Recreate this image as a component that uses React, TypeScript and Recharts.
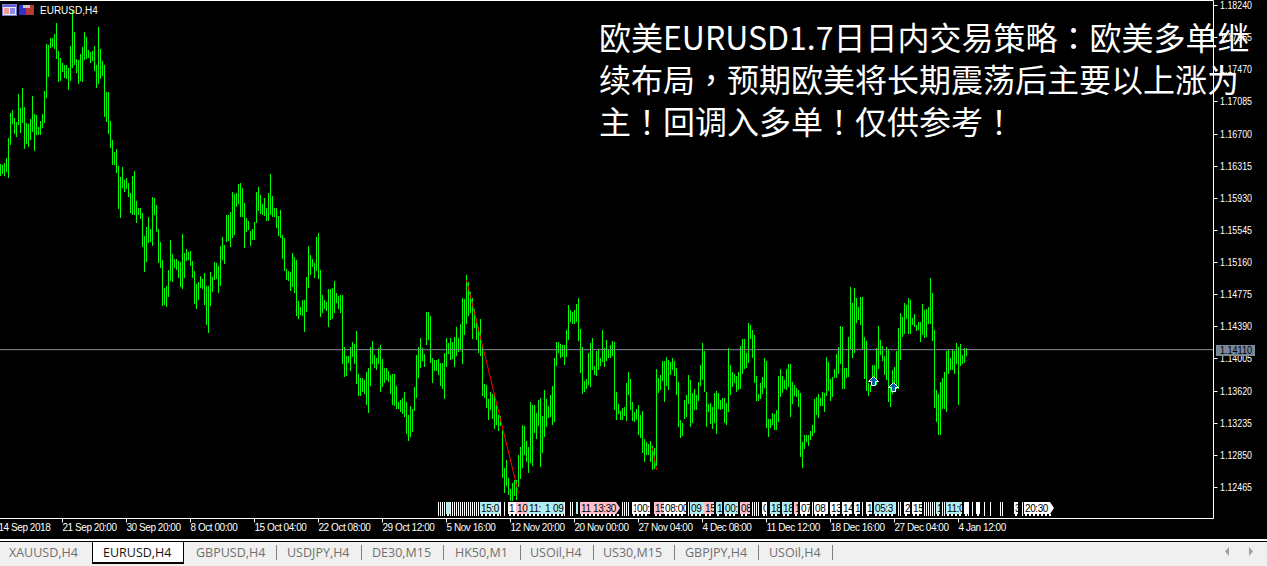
import { BarChart, Bar, XAxis, YAxis, ReferenceLine, ReferenceArea, ReferenceDot } from 'recharts'

const symbol = 'EURUSD,H4'
const titleLines = [
  '欧美EURUSD1.7日日内交易策略：欧美多单继',
  '续布局，预期欧美将长期震荡后主要以上涨为',
  '主！回调入多单！仅供参考！',
]

// 4h bar highs / lows, oldest first
const barHighs = [
  1.16332, 1.16320, 1.16352, 1.16404, 1.16644, 1.16944, 1.16980, 1.16884, 1.16836, 1.17172,
  1.17004, 1.17244, 1.17016, 1.16824, 1.16812, 1.16872, 1.17148, 1.16932, 1.16920, 1.16776,
  1.16848, 1.16932, 1.17208, 1.17772, 1.17760, 1.17844, 1.17844, 1.17892, 1.18024, 1.17688,
  1.17604, 1.17544, 1.17520, 1.17520, 1.17484, 1.17748, 1.18180, 1.17916, 1.17592, 1.17580,
  1.17652, 1.17736, 1.17916, 1.17856, 1.17700, 1.17676, 1.17688, 1.17748, 1.17520, 1.17976,
  1.17712, 1.17568, 1.17520, 1.17196, 1.17196, 1.16848, 1.16620, 1.16476, 1.16512, 1.16308,
  1.16176, 1.16296, 1.16143, 1.16167, 1.16107, 1.15987, 1.16191, 1.16251, 1.15891, 1.15807,
  1.15807, 1.15747, 1.15471, 1.15579, 1.15699, 1.15555, 1.15939, 1.15927, 1.15843, 1.15555,
  1.15399, 1.15183, 1.14847, 1.14871, 1.15063, 1.15423, 1.15255, 1.15195, 1.15195, 1.15171,
  1.15159, 1.15495, 1.15267, 1.15315, 1.15279, 1.15291, 1.15171, 1.15051, 1.14895, 1.14919,
  1.14991, 1.14955, 1.15027, 1.14871, 1.14871, 1.15039, 1.14979, 1.15159, 1.15147, 1.15111,
  1.15351, 1.15459, 1.15363, 1.15723, 1.15723, 1.15759, 1.15999, 1.15975, 1.15987, 1.16095,
  1.16107, 1.16047, 1.15867, 1.15687, 1.15651, 1.15531, 1.15555, 1.15639, 1.15999, 1.16059,
  1.15963, 1.15855, 1.15927, 1.15807, 1.15987, 1.16215, 1.15951, 1.15807, 1.15807, 1.15711,
  1.15783, 1.15483, 1.15447, 1.15075, 1.15051, 1.15039, 1.15267, 1.15219, 1.15183, 1.14691,
  1.14619, 1.14703, 1.14703, 1.14979, 1.15351, 1.15243, 1.15195, 1.15147, 1.15459, 1.15507,
  1.15064, 1.14764, 1.14704, 1.14680, 1.14836, 1.14836, 1.14848, 1.14932, 1.14788, 1.14752,
  1.14764, 1.14764, 1.14140, 1.14032, 1.14032, 1.14140, 1.14200, 1.14176, 1.14332, 1.13816,
  1.13768, 1.13768, 1.13744, 1.13840, 1.13888, 1.14140, 1.14212, 1.14044, 1.14008, 1.14128,
  1.14164, 1.13996, 1.13888, 1.13888, 1.13852, 1.13804, 1.13816, 1.13816, 1.13672, 1.13480,
  1.13504, 1.13528, 1.13600, 1.13480, 1.13324, 1.13432, 1.13396, 1.13660, 1.14044, 1.14140,
  1.14248, 1.14128, 1.14056, 1.14560, 1.14560, 1.14512, 1.14008, 1.13984, 1.13984, 1.13996,
  1.13948, 1.13948, 1.14068, 1.14248, 1.14188, 1.14248, 1.14200, 1.14260, 1.14380, 1.14248,
  1.14416, 1.14728, 1.14716, 1.15004, 1.14920, 1.14800, 1.14728, 1.14596, 1.14476, 1.14380,
  1.14476, 1.14152, 1.13696, 1.13684, 1.13516, 1.13600, 1.13576, 1.13588, 1.13444, 1.13324,
  1.13312, 1.13144, 1.12688, 1.12784, 1.12568, 1.12436, 1.12508, 1.12544, 1.12544, 1.12844,
  1.12940, 1.13204, 1.13192, 1.13012, 1.12940, 1.13480, 1.13444, 1.13444, 1.13348, 1.13504,
  1.13528, 1.13312, 1.13624, 1.13516, 1.13432, 1.13564, 1.13672, 1.14008, 1.14200, 1.14200,
  1.14176, 1.14164, 1.14164, 1.14344, 1.14644, 1.14584, 1.14560, 1.14584, 1.14656, 1.14728,
  1.14356, 1.14140, 1.13732, 1.13756, 1.14068, 1.14188, 1.14248, 1.13912, 1.14092, 1.14116,
  1.14008, 1.14344, 1.14128, 1.14224, 1.14104, 1.14164, 1.14212, 1.14200, 1.13600, 1.13456,
  1.13372, 1.13408, 1.13420, 1.13708, 1.13840, 1.13756, 1.13480, 1.13360, 1.13396, 1.13444,
  1.13324, 1.13372, 1.13036, 1.13000, 1.12976, 1.13012, 1.12952, 1.12928, 1.13876, 1.13768,
  1.13804, 1.13972, 1.13972, 1.14020, 1.13984, 1.13960, 1.14008, 1.13972, 1.13888, 1.13720,
  1.13264, 1.13228, 1.13504, 1.13564, 1.13804, 1.13744, 1.13588, 1.13636, 1.13564, 1.13720,
  1.13924, 1.14188, 1.14092, 1.13600, 1.13456, 1.13468, 1.13420, 1.13588, 1.13612, 1.13588,
  1.13504, 1.13528, 1.13528, 1.13468, 1.14128, 1.13924, 1.13840, 1.13816, 1.13792, 1.13840,
  1.14152, 1.14236, 1.14236, 1.14068, 1.14428, 1.14404, 1.14344, 1.14284, 1.13792, 1.13576,
  1.13708, 1.13780, 1.14008, 1.13972, 1.13276, 1.13276, 1.13348, 1.13336, 1.13384, 1.13792,
  1.13876, 1.13792, 1.13744, 1.13876, 1.13936, 1.13936, 1.13720, 1.13684, 1.13648, 1.13624,
  1.13588, 1.13000, 1.13084, 1.13084, 1.13084, 1.13132, 1.13204, 1.13516, 1.13540, 1.13576,
  1.13528, 1.13600, 1.13588, 1.14020, 1.13960, 1.13756, 1.13780, 1.13876, 1.14056, 1.14140,
  1.14392, 1.14380, 1.13888, 1.13888, 1.14260, 1.14860, 1.14668, 1.14848, 1.14728, 1.14620,
  1.14740, 1.14740, 1.14260, 1.14212, 1.13708, 1.13684, 1.13924, 1.13924, 1.14128, 1.14392,
  1.14224, 1.14152, 1.14032, 1.14140, 1.14116, 1.13684, 1.13864, 1.13900, 1.14092, 1.14368,
  1.14548, 1.14500, 1.14668, 1.14644, 1.14728, 1.14704, 1.14488, 1.14536, 1.14404, 1.14440,
  1.14440, 1.14656, 1.14584, 1.14596, 1.14620, 1.14968, 1.14788, 1.14344, 1.13624, 1.13576,
  1.13720, 1.13768, 1.13840, 1.14092, 1.14104, 1.14008, 1.14116, 1.14092, 1.14188, 1.14140,
  1.14176, 1.14044, 1.14128, 1.14128,
]
const barLows = [
  1.16188, 1.16212, 1.16200, 1.16236, 1.16164, 1.16560, 1.16812, 1.16692, 1.16656, 1.16800,
  1.16704, 1.16824, 1.16512, 1.16572, 1.16536, 1.16620, 1.16716, 1.16488, 1.16680, 1.16680,
  1.16680, 1.16764, 1.16824, 1.17124, 1.17376, 1.17724, 1.17736, 1.17712, 1.17592, 1.17316,
  1.17328, 1.17436, 1.17364, 1.17352, 1.17220, 1.17328, 1.17484, 1.17520, 1.17424, 1.17292,
  1.17328, 1.17316, 1.17580, 1.17592, 1.17604, 1.17544, 1.17568, 1.17448, 1.17244, 1.17292,
  1.17352, 1.17388, 1.16896, 1.16836, 1.16692, 1.16524, 1.16320, 1.16320, 1.16224, 1.15795,
  1.15687, 1.16047, 1.15999, 1.16035, 1.15939, 1.15747, 1.15723, 1.15723, 1.15627, 1.15723,
  1.15675, 1.15339, 1.15039, 1.15159, 1.15387, 1.15399, 1.15351, 1.15723, 1.15519, 1.15147,
  1.15087, 1.14631, 1.14643, 1.14619, 1.14739, 1.14931, 1.14919, 1.15087, 1.15063, 1.14967,
  1.14859, 1.14835, 1.14967, 1.15171, 1.15183, 1.15111, 1.14967, 1.14655, 1.14595, 1.14703,
  1.14847, 1.14835, 1.14643, 1.14403, 1.14307, 1.14631, 1.14799, 1.14943, 1.14955, 1.14787,
  1.14871, 1.15183, 1.15135, 1.15399, 1.15411, 1.15339, 1.15447, 1.15483, 1.15819, 1.15855,
  1.15699, 1.15699, 1.15327, 1.15519, 1.15543, 1.15351, 1.15423, 1.15423, 1.15627, 1.15771,
  1.15735, 1.15723, 1.15711, 1.15651, 1.15651, 1.15723, 1.15699, 1.15699, 1.15567, 1.15471,
  1.15447, 1.15195, 1.15051, 1.14943, 1.14931, 1.14811, 1.14859, 1.14787, 1.14511, 1.14475,
  1.14523, 1.14511, 1.14319, 1.14559, 1.14847, 1.15003, 1.15099, 1.14967, 1.15051, 1.14955,
  1.14500, 1.14548, 1.14596, 1.14572, 1.14380, 1.14464, 1.14476, 1.14548, 1.14668, 1.14596,
  1.14548, 1.13936, 1.13780, 1.13792, 1.13948, 1.13852, 1.14020, 1.13936, 1.13696, 1.13552,
  1.13552, 1.13600, 1.13576, 1.13444, 1.13348, 1.13672, 1.13936, 1.13888, 1.13864, 1.13936,
  1.13600, 1.13660, 1.13708, 1.13744, 1.13720, 1.13576, 1.13444, 1.13432, 1.13396, 1.13396,
  1.13360, 1.13336, 1.13300, 1.13096, 1.13012, 1.13060, 1.13120, 1.13372, 1.13528, 1.13768,
  1.13888, 1.13972, 1.13900, 1.14164, 1.14224, 1.13948, 1.13708, 1.13852, 1.13852, 1.13804,
  1.13672, 1.13636, 1.13516, 1.13900, 1.14056, 1.13984, 1.13996, 1.13900, 1.14032, 1.14080,
  1.14104, 1.13936, 1.14284, 1.14416, 1.14512, 1.14548, 1.14236, 1.14368, 1.14224, 1.14068,
  1.14032, 1.13552, 1.13528, 1.13408, 1.13264, 1.13384, 1.13276, 1.13156, 1.13204, 1.13132,
  1.13192, 1.12568, 1.12388, 1.12472, 1.12364, 1.12292, 1.12292, 1.12352, 1.12304, 1.12460,
  1.12556, 1.12688, 1.12844, 1.12760, 1.12628, 1.12748, 1.12712, 1.13108, 1.13036, 1.13192,
  1.12700, 1.12868, 1.13060, 1.13180, 1.13288, 1.13300, 1.13204, 1.13240, 1.13912, 1.14068,
  1.14008, 1.14020, 1.13924, 1.14020, 1.14224, 1.14440, 1.14416, 1.14416, 1.14440, 1.14212,
  1.13828, 1.13576, 1.13600, 1.13636, 1.13684, 1.13660, 1.13864, 1.13804, 1.13792, 1.13864,
  1.13912, 1.13960, 1.13900, 1.13972, 1.14008, 1.14008, 1.14032, 1.13384, 1.13264, 1.13336,
  1.13264, 1.13264, 1.13312, 1.13252, 1.13564, 1.13384, 1.13252, 1.13240, 1.13264, 1.13084,
  1.13048, 1.12868, 1.12760, 1.12844, 1.12844, 1.12760, 1.12664, 1.12676, 1.12712, 1.13588,
  1.13624, 1.13732, 1.13480, 1.13672, 1.13624, 1.13804, 1.13864, 1.13792, 1.13564, 1.13180,
  1.13048, 1.13072, 1.13276, 1.13300, 1.13456, 1.13180, 1.13228, 1.13384, 1.13384, 1.13492,
  1.13672, 1.13744, 1.13600, 1.13180, 1.13360, 1.13216, 1.13156, 1.13228, 1.13096, 1.13396,
  1.13384, 1.13396, 1.13228, 1.13204, 1.13360, 1.13564, 1.13660, 1.13708, 1.13600, 1.13624,
  1.13636, 1.13816, 1.13876, 1.13888, 1.13948, 1.14236, 1.14008, 1.13708, 1.13492, 1.13492,
  1.13516, 1.13576, 1.13648, 1.13168, 1.13060, 1.13168, 1.13204, 1.13144, 1.13144, 1.13240,
  1.13540, 1.13588, 1.13636, 1.13624, 1.13660, 1.13300, 1.13456, 1.13552, 1.13540, 1.13420,
  1.12820, 1.12688, 1.12916, 1.13000, 1.12952, 1.13024, 1.13072, 1.13108, 1.13324, 1.13288,
  1.13432, 1.13432, 1.13360, 1.13552, 1.13612, 1.13492, 1.13540, 1.13768, 1.13768, 1.13816,
  1.13936, 1.13636, 1.13636, 1.13768, 1.13780, 1.14116, 1.14008, 1.14068, 1.14428, 1.14464,
  1.14404, 1.14116, 1.13756, 1.13612, 1.13552, 1.13600, 1.13684, 1.13744, 1.13684, 1.13876,
  1.14044, 1.13972, 1.13804, 1.13744, 1.13480, 1.13420, 1.13576, 1.13696, 1.13636, 1.13636,
  1.13984, 1.14260, 1.14296, 1.14476, 1.14296, 1.14296, 1.14404, 1.14380, 1.14332, 1.14344,
  1.14200, 1.14284, 1.14248, 1.14260, 1.14416, 1.14416, 1.14212, 1.13408, 1.13240, 1.13084,
  1.13084, 1.13396, 1.13396, 1.13360, 1.13816, 1.13864, 1.13864, 1.13816, 1.13936, 1.13444,
  1.13912, 1.13936, 1.13948, 1.14032,
]

const priceTicks = [
  1.1824, 1.17855, 1.1747, 1.17085, 1.167, 1.16315, 1.1593, 1.15545, 1.1516, 1.14775, 1.1439, 1.14005, 1.1362,
  1.13235, 1.1285, 1.12465,
]
const lastPrice = 1.1411
const priceMin = 1.12087
const priceMax = 1.18294

const timeTickBars = [-1, 31, 63, 95, 127, 159, 191, 223, 255, 287, 319, 351, 383, 415, 447, 479]
const timeLabels = [
  '14 Sep 2018', '21 Sep 20:00', '30 Sep 20:00', '8 Oct 00:00', '15 Oct 04:00', '22 Oct 08:00', '29 Oct 12:00',
  '5 Nov 16:00', '12 Nov 20:00', '20 Nov 00:00', '27 Nov 04:00', '4 Dec 08:00', '11 Dec 12:00', '18 Dec 16:00',
  '27 Dec 04:00', '4 Jan 12:00',
]

// trend lines: [fromBar, fromPrice, toBar, toPrice]
const trendLines = [
  [233, 1.14945, 259, 1.12389],
  [326, 1.12932, 328, 1.12668],
]
// buy arrows: [bar, price]
const buyArrows = [
  [436, 1.13734],
  [446, 1.13663],
]

// economic calendar strip along the bottom of the chart
const stripTop = 1.12285
const boxBottom = 1.12141
const stripBottom = 1.12117
const calendarStripes = [
  219, 220, 221, 222, 225, 226, 227, 228, 229, 230, 231, 232, 233, 234, 235, 236, 237, 238, 239, 250, 252, 282, 285,
  286, 311, 312, 313, 314, 344, 376, 377, 378, 379, 383, 406, 431, 449, 450, 462, 463, 464, 465, 466, 467, 471, 472,
  484, 486, 492, 495, 500, 501, 511,
]
// [firstBar, lastBar, text, kind]
const calendarBoxes: [number, number, string, string][] = [
  [223, 224, '', 'usd'], [240, 249, '15:0', 'usd'], [254, 257, '1', 'low'], [258, 263, '10', 'high'],
  [264, 271, '11:', 'usd'], [272, 275, '1', 'usd'], [276, 281, '09', 'usd'], [288, 288, '', 'usd'],
  [290, 295, '11', 'high'], [296, 309, '13:30', 'highNext'], [316, 317, '1', 'low'], [318, 324, '00:', 'low'],
  [327, 331, '15', 'high'], [332, 342, '08:00', 'low'], [345, 351, '09', 'usd'], [352, 356, '15', 'high'],
  [358, 360, '1', 'usd'], [362, 368, '00:', 'usd'], [370, 374, '08', 'high'], [381, 382, '0', 'low'],
  [385, 389, '18', 'usd'], [391, 395, '18', 'usd'], [397, 398, '1', 'high'], [400, 404, '07', 'low'],
  [407, 413, '08', 'low'], [415, 419, '13', 'low'], [421, 425, '14', 'low'], [427, 429, '1', 'low'],
  [433, 435, '1', 'low'], [437, 447, '05:3', 'usd'], [452, 454, '2', 'low'], [456, 460, '15', 'low'],
  [468, 469, '1', 'usd'], [473, 480, '11:0', 'usd'], [482, 483, '', 'low'], [488, 489, '', 'low'],
  [507, 508, '3', 'low'], [512, 526, '20:30', 'lowNext'],
]

const tabs = [
  { name: 'XAUUSD,H4', left: 9 },
  { name: 'EURUSD,H4', left: 103, active: true },
  { name: 'GBPUSD,H4', left: 196 },
  { name: 'USDJPY,H4', left: 287 },
  { name: 'DE30,M15', left: 372 },
  { name: 'HK50,M1', left: 455 },
  { name: 'USOil,H4', left: 530 },
  { name: 'US30,M15', left: 603 },
  { name: 'GBPJPY,H4', left: 685 },
  { name: 'USOil,H4', left: 769 },
]
const tabSeparators = [276, 361, 443, 520, 593, 674, 758, 832]

const UI_FONT = '"Liberation Sans", Arial, sans-serif'
const CJK_FONT = '"Noto Sans CJK SC", sans-serif'
const BOX_FILL: Record<string, string> = {
  usd: '#b0ecf0',
  high: '#ffc0cb',
  highNext: '#ffc0cb',
  low: '#ffffff',
  lowNext: '#ffffff',
}

// one row per bar slot; the slot before the first bar only carries the first time label
const chartData = Array.from({ length: 608 }, (_, i) => {
  const bar = i - 1
  return {
    bar,
    range: barLows[bar] !== undefined ? [barLows[bar], barHighs[bar]] : null,
  }
})

function HighLowBar(props: any) {
  const { x, y, width, height } = props
  if (!height) return null
  return (
    <rect
      x={Math.floor(x)}
      y={Math.round(y)}
      width={width}
      height={Math.max(1, Math.round(height))}
      style={{ fill: '#00ff00', stroke: 'none' }}
    />
  )
}

function TimeTick({ x, y, payload }: any) {
  const label = timeLabels[timeTickBars.indexOf(payload.value)]
  return (
    <text x={x} y={y + 8} fill="#fff" stroke="none" fontSize={10} letterSpacing={-0.45} fontFamily={UI_FONT} textAnchor="start">
      {label}
    </text>
  )
}

function PriceTick({ x, y, payload }: any) {
  const row = Math.round(y) + 0.5
  if (payload.value === lastPrice) {
    return (
      <g>
        <rect x={x + 2.5} y={row - 5.5} width={39} height={11} fill="#778899" stroke="none" />
        <text x={x + 6.5} y={row + 3.5} fill="#000" stroke="none" fontSize={10} textLength={32} lengthAdjust="spacingAndGlyphs" fontFamily={UI_FONT}>
          {payload.value.toFixed(5)}
        </text>
      </g>
    )
  }
  return (
    <g>
      <line x1={x} x2={x + 4} y1={row} y2={row} stroke="#fff" />
      <text x={x + 6.5} y={row + 3.5} fill="#fff" stroke="none" fontSize={10} textLength={32} lengthAdjust="spacingAndGlyphs" fontFamily={UI_FONT}>
        {payload.value.toFixed(5)}
      </text>
    </g>
  )
}

function calendarBox(text: string, kind: string) {
  return (props: any) => {
    const x = Math.round(props.x)
    const y = Math.round(props.y)
    const w = Math.round(props.width)
    const h = Math.round(props.height)
    const fill = BOX_FILL[kind]
    const comb = []
    for (let cx = x + 1; cx < x + w - 1; cx += 4) {
      comb.push(<rect key={cx} x={cx} y={y + h} width={2} height={2} fill="#fff" />)
    }
    return (
      <g>
        {kind.endsWith('Next') ? (
          <polygon points={`${x},${y} ${x + w - 4},${y} ${x + w},${y + h / 2} ${x + w - 4},${y + h} ${x},${y + h}`} fill={fill} />
        ) : (
          <rect x={x} y={y} width={w} height={h} fill={fill} />
        )}
        {comb}
        {text && (
          <text x={x + 1} y={y + h - 2} fill="#000" fontSize={10} letterSpacing={-0.4} fontFamily={UI_FONT}>
            {text}
          </text>
        )}
      </g>
    )
  }
}

function BuyArrow({ cx, cy }: any) {
  const x = Math.round(cx) + 0.5
  const y = Math.round(cy) + 0.5
  return (
    <polygon
      points={`${x},${y - 5} ${x + 5},${y} ${x + 2},${y} ${x + 2},${y + 4} ${x - 2},${y + 4} ${x - 2},${y} ${x - 5},${y}`}
      fill="#0a5ea8"
      stroke="#fff"
    />
  )
}

function ChartHeader() {
  return (
    <div style={{ position: 'absolute', left: 2, top: 4, display: 'flex', alignItems: 'center' }}>
      <svg width={33} height={12}>
        <rect x={0.5} y={0.5} width={14} height={11} fill="#e8e8f0" stroke="#7a7ad0" />
        <rect x={1} y={1} width={13} height={2} fill="#6060d8" />
        <rect x={2} y={4} width={5} height={6} fill="#f09a90" />
        <rect x={8} y={4} width={5} height={6} fill="#8a8ae8" />
        <rect x={17} y={1} width={7} height={10} fill="#3030d0" />
        <rect x={24} y={1} width={8} height={10} fill="#b83a32" />
        <rect x={21} y={1} width={7} height={3} fill="#c8c8c8" />
      </svg>
      <span style={{ marginLeft: 5, color: '#fff', font: `10px ${UI_FONT}` }}>{symbol}</span>
    </div>
  )
}

function TabBar() {
  return (
    <div style={{ position: 'absolute', left: 0, top: 539, width: 1267, height: 27, background: '#f0f0f0' }}>
      <div style={{ height: 2, background: '#fff' }} />
      <div style={{ height: 1, background: '#000' }} />
      <div style={{ position: 'absolute', left: 92, top: 2, width: 90, height: 20, background: '#fff', border: '1px solid #000', borderBottomWidth: 2 }} />
      {tabSeparators.map((x) => (
        <div key={x} style={{ position: 'absolute', left: x, top: 6, width: 1, height: 15, background: '#808080' }} />
      ))}
      {tabs.map((tab, i) => (
        <span
          key={i}
          style={{
            position: 'absolute',
            left: tab.left,
            top: 5,
            color: tab.active ? '#111' : '#6f6f6f',
            font: '12.5px "Open Sans", sans-serif',
            lineHeight: '17px',
            whiteSpace: 'nowrap',
          }}
        >
          {tab.name}
        </span>
      ))}
      <svg style={{ position: 'absolute', left: 1224, top: 7 }} width={32} height={11}>
        <polygon points="1,5.5 5,1 5,10" fill="#a0a0a0" />
        <polygon points="25,1 29,5.5 25,10" fill="#a0a0a0" />
      </svg>
    </div>
  )
}

// the reference sets this punctuation centred in its cell, as the TC face does
function TitleLine({ text }: { text: string }) {
  return (
    <div>
      {text.split(/([：，！])/).map((part, i) =>
        i % 2 ? (
          <span key={i} style={{ fontFamily: '"Noto Sans CJK TC", sans-serif' }}>
            {part}
          </span>
        ) : (
          part
        ),
      )}
    </div>
  )
}

export default function App() {
  return (
    <div style={{ position: 'absolute', left: 0, top: 0, width: 1267, height: 566, background: '#000', overflow: 'hidden' }}>
      <BarChart
        width={1267}
        height={566}
        data={chartData}
        margin={{ top: 0.5, right: 0, bottom: 0, left: -2.5 }}
        barSize={1}
      >
        <XAxis
          dataKey="bar"
          type="category"
          ticks={timeTickBars}
          interval={0}
          height={47.5}
          stroke="#fff"
          tickSize={4}
          tickMargin={0}
          tick={<TimeTick />}
        />
        <YAxis
          orientation="right"
          type="number"
          width={53.5}
          domain={[priceMin, priceMax]}
          allowDataOverflow
          ticks={[...priceTicks, lastPrice]}
          interval={0}
          stroke="#fff"
          tickLine={false}
          tickSize={0}
          tickMargin={0}
          tick={<PriceTick />}
        />
        <ReferenceLine y={priceMax} stroke="#fff" />
        <ReferenceLine y={lastPrice} stroke="#868e96" />
        <Bar dataKey="range" fill="#00ff00" shape={HighLowBar} isAnimationActive={false} />
        {trendLines.map(([a, pa, b, pb]) => (
          <ReferenceLine key={a} segment={[{ x: a, y: pa }, { x: b, y: pb }]} stroke="#ff0000" />
        ))}
        {buyArrows.map(([bar, price]) => (
          <ReferenceDot key={bar} x={bar} y={price} shape={<BuyArrow />} />
        ))}
        {calendarStripes.map((bar) => (
          <ReferenceLine key={bar} segment={[{ x: bar, y: stripTop }, { x: bar, y: stripBottom }]} stroke="#fff" />
        ))}
        {calendarBoxes.map(([first, last, text, kind]) => (
          <ReferenceArea key={first} x1={first} x2={last} y1={boxBottom} y2={stripTop} shape={calendarBox(text, kind)} />
        ))}
      </BarChart>
      <ChartHeader />
      <div
        style={{
          position: 'absolute',
          left: 599,
          top: 15,
          color: '#fff',
          font: `32px/42px ${CJK_FONT}`,
          whiteSpace: 'nowrap',
        }}
      >
        {titleLines.map((line) => (
          <TitleLine key={line} text={line} />
        ))}
      </div>
      <TabBar />
    </div>
  )
}
